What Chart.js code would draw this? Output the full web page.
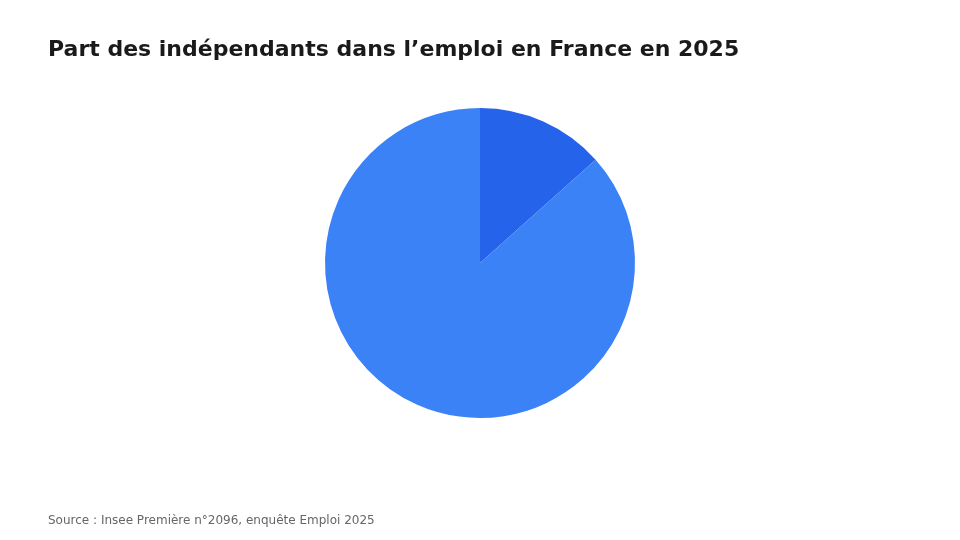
<!DOCTYPE html>
<html lang="fr">
<head>
<meta charset="utf-8">
<title>Part des indépendants dans l’emploi en France en 2025</title>
<script src="https://cdn.jsdelivr.net/npm/chart.js@4.4.1/dist/chart.umd.min.js"></script>
<style>
  html, body { margin: 0; padding: 0; background: #ffffff; }
  #wrap { width: 960px; height: 540px; }
</style>
</head>
<body>
<div id="wrap"><canvas id="pieChart" width="960" height="540"></canvas></div>
<script>
// données
const categories = ["Indépendants", "Salariés"];
const shares = [13.4, 86.6];
const sliceColors = ["#2563eb", "#3b82f6"];

const titleText = "Part des indépendants dans l’emploi en France en 2025";
const sourceText = "Source : Insee Première n°2096, enquête Emploi 2025";

var ctx = document.getElementById("pieChart").getContext("2d");
var myChart = new Chart(ctx, {
    type: "pie",
    data: {
        labels: categories,
        datasets: [{
            data: shares,
            backgroundColor: sliceColors,
            borderWidth: 0
        }]
    },
    options: {
        responsive: false,
        animation: false,
        layout: {
            padding: { left: 48, right: 48, top: 0, bottom: 0 }
        },
        plugins: {
            legend: { display: false },
            tooltip: { enabled: false },
            title: {
                display: true,
                text: titleText,
                align: "start",
                color: "#1a1a1a",
                font: { family: "DejaVu Sans", size: 22, weight: "bold" },
                padding: { top: 36.8, bottom: 44.8 }
            },
            subtitle: {
                display: true,
                text: sourceText,
                position: "bottom",
                align: "start",
                color: "#666666",
                font: { family: "DejaVu Sans", size: 12 },
                padding: { top: 95.8, bottom: 11.8 }
            }
        }
    }
});
</script>
</body>
</html>
